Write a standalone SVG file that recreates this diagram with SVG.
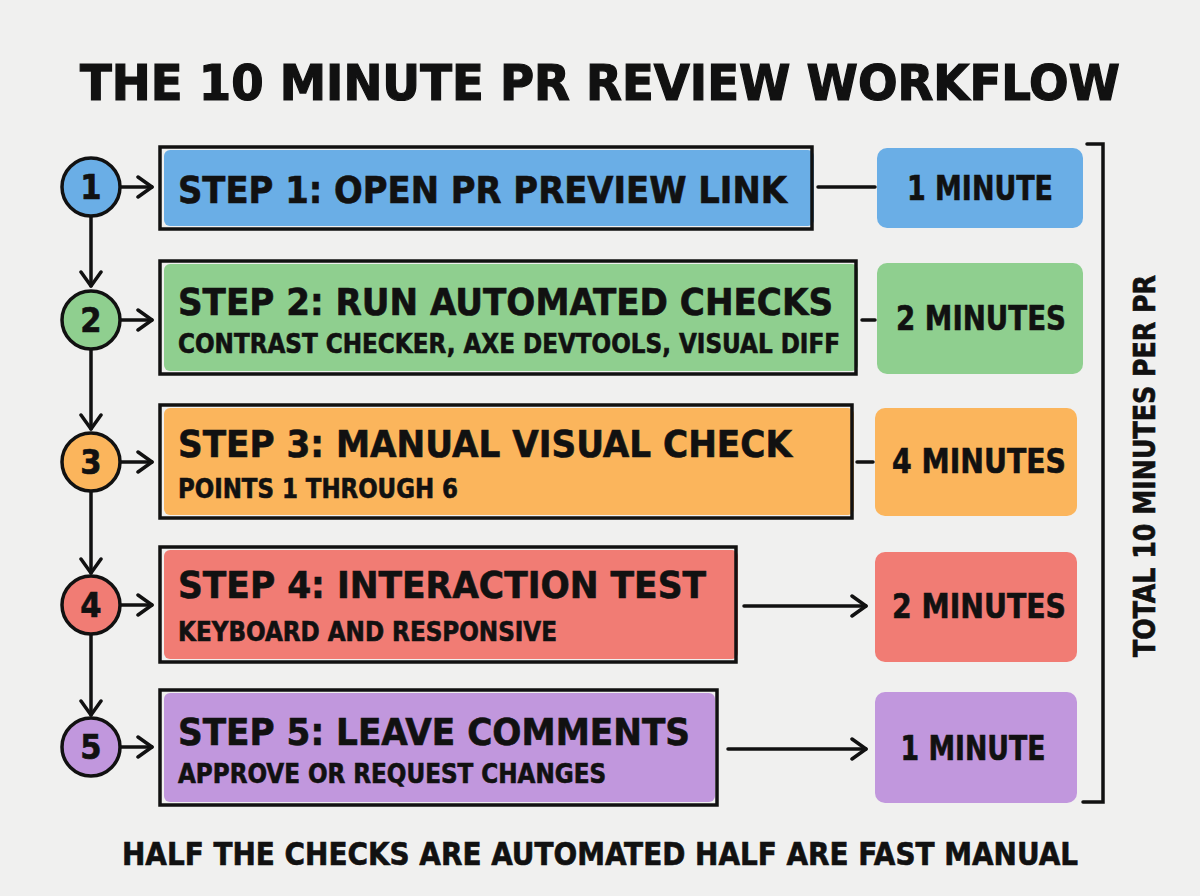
<svg xmlns="http://www.w3.org/2000/svg" width="1200" height="896" viewBox="0 0 1200 896">
<defs>
<marker id="ah" markerUnits="userSpaceOnUse" markerWidth="20" markerHeight="26" refX="16" refY="12" orient="auto" viewBox="0 0 20 24">
<path d="M2,2 L16,12 L2,22" fill="none" stroke="#111" stroke-width="3.5" stroke-linecap="round" stroke-linejoin="round"/>
</marker>
</defs>
<style>
text{font-family:"DejaVu Sans Condensed","DejaVu Sans","Liberation Sans",sans-serif;font-weight:bold;fill:#111;stroke:#111;stroke-width:0.6}
.box{fill:none;stroke:#111;stroke-width:3.5}
.circ{stroke:#111;stroke-width:3.5}
.ln{stroke:#111;stroke-width:3.5;fill:none;stroke-linecap:round}
.t{font-size:38px}
.s{font-size:26px}
.m{font-size:34px;text-anchor:middle}
.n{font-size:34px;text-anchor:middle}
.blue{fill:#6aaee6}.green{fill:#8fcf8f}.orange{fill:#fbb55c}.red{fill:#f17c74}.purple{fill:#c197dd}
</style>
<rect width="1200" height="896" fill="#f0f0ef"/>
<text x="600" y="100" font-size="50" text-anchor="middle" textLength="1040" lengthAdjust="spacingAndGlyphs" style="stroke-width:1.2">THE 10 MINUTE PR REVIEW WORKFLOW</text>

<g id="connectors">
<line class="ln" x1="91" y1="217" x2="91" y2="286" marker-end="url(#ah)"/>
<line class="ln" x1="91" y1="350" x2="91" y2="429" marker-end="url(#ah)"/>
<line class="ln" x1="91" y1="492" x2="91" y2="573" marker-end="url(#ah)"/>
<line class="ln" x1="91" y1="635" x2="91" y2="715" marker-end="url(#ah)"/>
<line class="ln" x1="121" y1="187" x2="152" y2="187" marker-end="url(#ah)"/>
<line class="ln" x1="121" y1="320" x2="152" y2="320" marker-end="url(#ah)"/>
<line class="ln" x1="121" y1="462" x2="152" y2="462" marker-end="url(#ah)"/>
<line class="ln" x1="121" y1="605" x2="152" y2="605" marker-end="url(#ah)"/>
<line class="ln" x1="121" y1="747" x2="152" y2="747" marker-end="url(#ah)"/>
<line class="ln" x1="818" y1="187" x2="875" y2="187"/>
<line class="ln" x1="862" y1="320" x2="875" y2="320"/>
<line class="ln" x1="857" y1="462" x2="873" y2="462"/>
<line class="ln" x1="744" y1="606" x2="866" y2="606" marker-end="url(#ah)"/>
<line class="ln" x1="728" y1="749" x2="866" y2="749" marker-end="url(#ah)"/>
<path class="ln" d="M1087,144 L1103,144 L1103,802 L1083,802"/>
</g>

<g id="step1">
<circle class="circ blue" cx="91" cy="187" r="29"/>
<text class="n" x="91" y="199">1</text>
<rect class="blue" x="164" y="150" width="650" height="76" rx="6"/>
<rect class="box" x="160" y="147" width="652" height="82"/>
<text class="t" x="178" y="203" textLength="609" lengthAdjust="spacingAndGlyphs">STEP 1: OPEN PR PREVIEW LINK</text>
</g>
<g id="time1">
<rect class="blue" x="877" y="148" width="206" height="80" rx="10"/>
<text class="m" x="980" y="200" textLength="146" lengthAdjust="spacingAndGlyphs">1 MINUTE</text>
</g>

<g id="step2">
<circle class="circ green" cx="91" cy="320" r="29"/>
<text class="n" x="91" y="332">2</text>
<rect class="green" x="164" y="264" width="694" height="107" rx="6"/>
<rect class="box" x="160" y="261" width="696" height="113"/>
<text class="t" x="178" y="315" textLength="655" lengthAdjust="spacingAndGlyphs">STEP 2: RUN AUTOMATED CHECKS</text>
<text class="s" x="178" y="353" textLength="662" lengthAdjust="spacingAndGlyphs">CONTRAST CHECKER, AXE DEVTOOLS, VISUAL DIFF</text>
</g>
<g id="time2">
<rect class="green" x="877" y="263" width="206" height="111" rx="10"/>
<text class="m" x="981" y="330" textLength="170" lengthAdjust="spacingAndGlyphs">2 MINUTES</text>
</g>

<g id="step3">
<circle class="circ orange" cx="91" cy="462" r="29"/>
<text class="n" x="91" y="474">3</text>
<rect class="orange" x="164" y="408" width="690" height="107" rx="6"/>
<rect class="box" x="160" y="405" width="692" height="113"/>
<text class="t" x="178" y="457" textLength="614" lengthAdjust="spacingAndGlyphs">STEP 3: MANUAL VISUAL CHECK</text>
<text class="s" x="178" y="498" textLength="280" lengthAdjust="spacingAndGlyphs">POINTS 1 THROUGH 6</text>
</g>
<g id="time3">
<rect class="orange" x="875" y="408" width="202" height="108" rx="10"/>
<text class="m" x="979" y="473" textLength="174" lengthAdjust="spacingAndGlyphs">4 MINUTES</text>
</g>

<g id="step4">
<circle class="circ red" cx="91" cy="605" r="29"/>
<text class="n" x="91" y="617">4</text>
<rect class="red" x="164" y="550" width="574" height="109" rx="6"/>
<rect class="box" x="160" y="547" width="576" height="115"/>
<text class="t" x="178" y="598" textLength="528" lengthAdjust="spacingAndGlyphs">STEP 4: INTERACTION TEST</text>
<text class="s" x="178" y="641" textLength="379" lengthAdjust="spacingAndGlyphs">KEYBOARD AND RESPONSIVE</text>
</g>
<g id="time4">
<rect class="red" x="875" y="552" width="202" height="110" rx="10"/>
<text class="m" x="979" y="618" textLength="174" lengthAdjust="spacingAndGlyphs">2 MINUTES</text>
</g>

<g id="step5">
<circle class="circ purple" cx="91" cy="747" r="29"/>
<text class="n" x="91" y="759">5</text>
<rect class="purple" x="164" y="693" width="551" height="109" rx="6"/>
<rect class="box" x="160" y="690" width="557" height="115"/>
<text class="t" x="178" y="745" textLength="512" lengthAdjust="spacingAndGlyphs">STEP 5: LEAVE COMMENTS</text>
<text class="s" x="178" y="783" textLength="428" lengthAdjust="spacingAndGlyphs">APPROVE OR REQUEST CHANGES</text>
</g>
<g id="time5">
<rect class="purple" x="875" y="692" width="202" height="111" rx="10"/>
<text class="m" x="973" y="760" textLength="145" lengthAdjust="spacingAndGlyphs">1 MINUTE</text>
</g>

<text transform="translate(1155,466) rotate(-90)" font-size="30" text-anchor="middle" textLength="382" lengthAdjust="spacingAndGlyphs">TOTAL 10 MINUTES PER PR</text>
<text x="600" y="865" font-size="32" text-anchor="middle" textLength="956" lengthAdjust="spacingAndGlyphs">HALF THE CHECKS ARE AUTOMATED HALF ARE FAST MANUAL</text>
</svg>
